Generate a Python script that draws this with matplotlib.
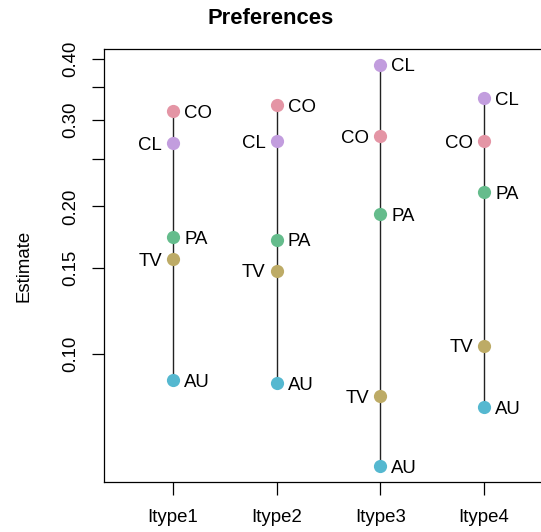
import matplotlib
matplotlib.use("Agg")
import matplotlib.pyplot as plt
from matplotlib.ticker import FixedLocator, FixedFormatter, NullLocator
import numpy as np

plt.rcParams['font.family'] = ['Liberation Sans', 'DejaVu Sans']

categories = ["Itype1", "Itype2", "Itype3", "Itype4"]
items = ["CO", "TV", "PA", "AU", "CL"]
colors = ["#E495A5", "#BDAB66", "#65BC8C", "#55B8D0", "#C29DDE"]
# estimates per item, per category
CO = [0.313, 0.322, 0.2785, 0.272]
TV = [0.156, 0.148, 0.082, 0.104]
PA = [0.173, 0.171, 0.193, 0.214]
AU = [0.0885, 0.0873, 0.0591, 0.078]
CL = [0.2695, 0.272, 0.389, 0.333]
values = [CO, TV, PA, AU, CL]

ytick_vals = [0.10, 0.15, 0.20, 0.25, 0.30, 0.35, 0.40]
ytick_labels = ["0.10", "0.15", "0.20", "", "0.30", "", "0.40"]

FS = 13.4
fig = plt.figure(figsize=(5.41, 5.32), dpi=100)
ax = fig.add_axes([104/541, 1-482/532, (553-104)/541, (482-49)/532])
ax.set_yscale('log')
ax.set_ylim(0.0548, 0.419)
ax.set_xlim(0.335, 4.665)

x = np.arange(1, len(categories)+1)
vals = np.array(values)  # items x categories
dy = -0.716 * FS / 2
for j, xc in enumerate(x):
    col = vals[:, j]
    ax.plot([xc, xc], [col.min(), col.max()], color='#222222', lw=1.0, zorder=1)
    order = np.argsort(-col)
    for rank, i in enumerate(order):
        ax.plot(xc, col[i], 'o', ms=9.5, color=colors[i], mec='none', zorder=3)
        if rank % 2 == 0:
            ax.annotate(items[i], (xc, col[i]), xytext=(8, dy), textcoords='offset points',
                        ha='left', va='baseline', fontsize=FS)
        else:
            ax.annotate(items[i], (xc, col[i]), xytext=(-8, dy), textcoords='offset points',
                        ha='right', va='baseline', fontsize=FS)

ax.yaxis.set_major_locator(FixedLocator(ytick_vals))
ax.yaxis.set_major_formatter(FixedFormatter(ytick_labels))
ax.yaxis.set_minor_locator(NullLocator())
ax.set_xticks(x)
ax.set_xticklabels(categories)
ax.tick_params(axis='y', length=8.6, width=0.9, labelsize=FS, pad=9.5)
ax.tick_params(axis='x', length=9, width=0.9, labelsize=FS, pad=10.5)
for lab in ax.get_yticklabels():
    lab.set_rotation(90)
    lab.set_va('center')
for s in ax.spines.values():
    s.set_linewidth(0.9)

fig.text(24/541, 1-266/532, "Estimate", rotation=90, ha='center', va='center', fontsize=FS)
fig.text(0.5, 1-18/532, "Preferences", ha='center', va='center', fontsize=15.8, fontweight='bold')

fig.savefig("out.png", dpi=100)
